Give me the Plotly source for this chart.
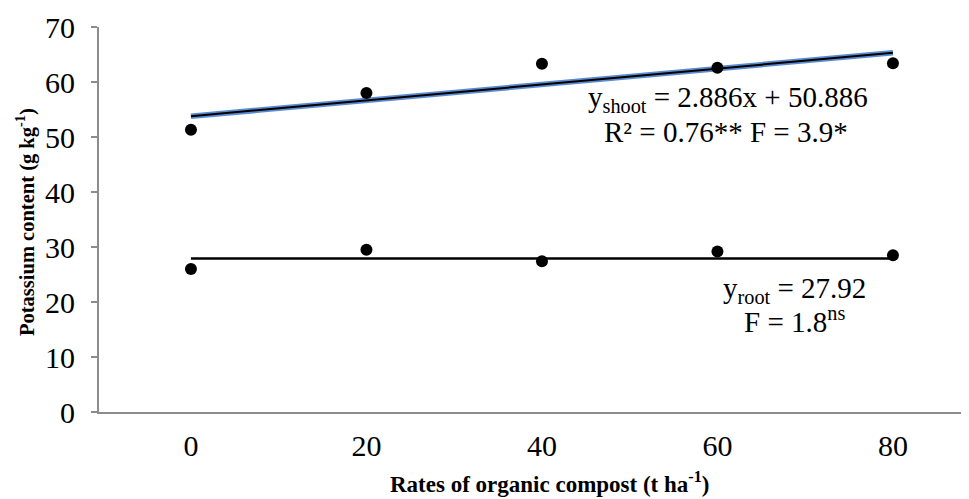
import plotly.graph_objects as go

rates = ["0", "20", "40", "60", "80"]
shoot_k = [51.3, 58.0, 63.3, 62.6, 63.4]
root_k = [26.0, 29.5, 27.4, 29.2, 28.5]
shoot_slope = 2.886
shoot_intercept = 50.886
root_mean = 27.92

xi = list(range(len(rates)))
shoot_fit = [shoot_slope * (i + 1) + shoot_intercept for i in xi]
root_fit = [root_mean for _ in xi]

FONT = "Liberation Serif, Times New Roman, serif"

fig = go.Figure()
fig.add_trace(go.Scatter(x=xi, y=shoot_fit, mode="lines",
                         line=dict(color="#5B8BD0", width=5.5), hoverinfo="skip"))
fig.add_trace(go.Scatter(x=xi, y=shoot_fit, mode="lines",
                         line=dict(color="black", width=2), hoverinfo="skip"))
fig.add_trace(go.Scatter(x=xi, y=root_fit, mode="lines",
                         line=dict(color="black", width=2.5), hoverinfo="skip"))
fig.add_trace(go.Scatter(x=xi, y=shoot_k, mode="markers",
                         marker=dict(color="black", size=12)))
fig.add_trace(go.Scatter(x=xi, y=root_k, mode="markers",
                         marker=dict(color="black", size=12)))

fig.update_layout(
    width=969, height=499,
    margin=dict(l=91, r=0, t=19, b=95),
    paper_bgcolor="white", plot_bgcolor="white",
    showlegend=False,
    font=dict(family=FONT, color="black", size=30),
    xaxis=dict(range=[-0.524, 4.479], tickvals=xi, ticktext=rates,
               showgrid=False, zeroline=False, showline=True,
               linecolor="#8C8C8C", linewidth=2, ticks="",
               ticklabelstandoff=6,
               tickfont=dict(family=FONT, size=30, color="black")),
    yaxis=dict(range=[0, 70], tickvals=[0, 10, 20, 30, 40, 50, 60, 70],
               showgrid=False, zeroline=False, showline=True,
               linecolor="#8C8C8C", linewidth=2, ticks="outside",
               ticklen=6, tickcolor="#8C8C8C", tickwidth=2,
               ticklabelstandoff=10,
               tickfont=dict(family=FONT, size=30, color="black")),
)

ann_font = dict(family=FONT, size=29, color="black")
fig.add_annotation(x=3.06, y=56.9, xref="x", yref="y", showarrow=False,
                   text="y<sub>shoot</sub> = 2.886x + 50.886", font=ann_font)
fig.add_annotation(x=3.05, y=50.9, xref="x", yref="y", showarrow=False,
                   text="R² = 0.76** F = 3.9*", font=ann_font)
fig.add_annotation(x=3.44, y=22.2, xref="x", yref="y", showarrow=False,
                   text="y<sub>root</sub> = 27.92", font=ann_font)
fig.add_annotation(x=3.44, y=16.8, xref="x", yref="y", showarrow=False,
                   text="F = 1.8<sup>ns</sup>", font=ann_font)

fig.add_annotation(x=(549 - 99) / 878, y=-70 / 385, xref="paper", yref="paper",
                   showarrow=False, xanchor="center", yanchor="middle",
                   text="<b>Rates of organic compost (t ha<sup>-1</sup>)</b>",
                   font=dict(family=FONT, size=23, color="black"))
fig.add_annotation(x=(25 - 99) / 878, y=(412 - 222) / 385, xref="paper", yref="paper",
                   showarrow=False, xanchor="center", yanchor="middle", textangle=-90,
                   text="<b>Potassium content (g kg<sup>-1</sup>)</b>",
                   font=dict(family=FONT, size=20.5, color="black"))

fig.write_html("out.html")
